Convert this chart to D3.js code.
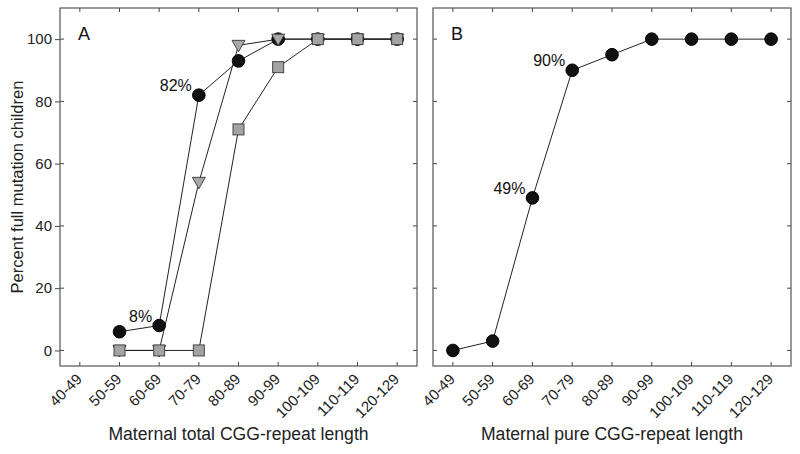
<!DOCTYPE html>
<html><head><meta charset="utf-8">
<script src="https://cdn.jsdelivr.net/npm/d3@7"></script>
<style>body{margin:0;background:#fff}svg{display:block;font-family:Arial,"Liberation Sans",sans-serif}</style>
</head><body><svg id="c" width="800" height="454"></svg>
<script>
const categories = ["40-49","50-59","60-69","70-79","80-89","90-99","100-109","110-119","120-129"];
const yTicks = [0,20,40,60,80,100];
// Panel A: maternal total CGG-repeat length
const totalCircle = [null,6,8,82,93,100,100,100,100];
const totalTriangle = [null,0,0,54,98,100,100,100,100];
const totalSquare = [null,0,0,0,71,91,100,100,100];
// Panel B: maternal pure CGG-repeat length
const pureCircle = [0,3,49,90,95,100,100,100,100];
const labelsA = [{cat:"60-69", v:8, text:"8%"},{cat:"70-79", v:82, text:"82%"}];
const labelsB = [{cat:"60-69", v:49, text:"49%"},{cat:"70-79", v:90, text:"90%"}];

const svg = d3.select("#c");
const plotTop = 8, plotBottom = 366;
const y = d3.scaleLinear().domain([-5,110]).range([plotBottom, plotTop]);

function panel(x0, x1, letter, xtitle, series, labels, leftLabels){
  const x = d3.scalePoint().domain(categories).range([x0, x1]).padding(0.5);
  const g = svg.append("g");
  const tk = g.append("g").attr("stroke","#444").attr("stroke-width",1);
  categories.forEach(c=>{
    tk.append("line").attr("x1",x(c)).attr("x2",x(c)).attr("y1",plotBottom).attr("y2",plotBottom-4);
    tk.append("line").attr("x1",x(c)).attr("x2",x(c)).attr("y1",plotTop).attr("y2",plotTop+4);
  });
  yTicks.forEach(t=>{
    tk.append("line").attr("x1",x0).attr("x2",x0+4).attr("y1",y(t)).attr("y2",y(t));
    tk.append("line").attr("x1",x1).attr("x2",x1-4).attr("y1",y(t)).attr("y2",y(t));
  });
  if(leftLabels){
    const ax = g.append("g").attr("transform",`translate(${x0},0)`)
      .call(d3.axisLeft(y).tickValues(yTicks).tickSize(5).tickPadding(3));
    ax.select(".domain").remove();
    ax.selectAll("line").attr("stroke","#444");
    ax.selectAll("text").attr("font-size",15).attr("fill","#222").attr("font-family","Arial, 'Liberation Sans', sans-serif");
  }
  g.append("rect").attr("x",x0).attr("y",plotTop).attr("width",x1-x0).attr("height",plotBottom-plotTop)
    .attr("fill","none").attr("stroke","#555").attr("stroke-width",1.2);
  categories.forEach(c=>{
    g.append("text").attr("transform",`translate(${x(c)+3},${380}) rotate(-45)`)
      .attr("text-anchor","end").attr("font-size",15).attr("fill","#222").text(c);
  });
  g.append("text").attr("x",(x0+x1)/2).attr("y",440).attr("text-anchor","middle")
    .attr("font-size",17.6).attr("fill","#222").text(xtitle);
  g.append("text").attr("x",x0+18).attr("y",40).attr("font-size",18).attr("fill","#111").text(letter);
  const line = d3.line().defined(d=>d.v!=null).x(d=>x(d.c)).y(d=>y(d.v));
  series.forEach(s=>{
    const pts = s.values.map((v,i)=>({c:categories[i], v}));
    g.append("path").datum(pts).attr("d",line).attr("fill","none").attr("stroke","#222").attr("stroke-width",1);
  });
  series.forEach(s=>{
    const pts = s.values.map((v,i)=>({c:categories[i], v})).filter(d=>d.v!=null);
    const mg = g.append("g");
    if(s.shape==="circle"){
      mg.selectAll("circle").data(pts).join("circle").attr("cx",d=>x(d.c)).attr("cy",d=>y(d.v))
        .attr("r",6.3).attr("fill","#111").attr("stroke","#000");
    } else if(s.shape==="square"){
      mg.selectAll("rect").data(pts).join("rect").attr("x",d=>x(d.c)-5.5).attr("y",d=>y(d.v)-5.5)
        .attr("width",11).attr("height",11).attr("fill","#a3a3a3").attr("stroke","#444").attr("stroke-width",1);
    } else {
      mg.selectAll("path").data(pts).join("path")
        .attr("d",d=>{const cx=x(d.c), cy=y(d.v); return `M${cx-6.5},${cy-5}L${cx+6.5},${cy-5}L${cx},${cy+6.5}Z`;})
        .attr("fill","#a8a8a8").attr("stroke","#444").attr("stroke-width",1);
    }
  });
  labels.forEach(l=>{
    g.append("text").attr("x",x(l.cat)-7).attr("y",y(l.v)-4).attr("text-anchor","end")
      .attr("font-size",16).attr("fill","#111").text(l.text);
  });
}

panel(60, 417, "A", "Maternal total CGG-repeat length",
  [{values:totalCircle, shape:"circle"},{values:totalTriangle, shape:"triangle"},{values:totalSquare, shape:"square"}],
  labelsA, true);
panel(433, 791, "B", "Maternal pure CGG-repeat length",
  [{values:pureCircle, shape:"circle"}], labelsB, false);

svg.append("text").attr("transform",`translate(23,${(plotTop+plotBottom)/2}) rotate(-90)`)
  .attr("text-anchor","middle").attr("font-size",16.5).attr("fill","#222").text("Percent full mutation children");
</script></body></html>
